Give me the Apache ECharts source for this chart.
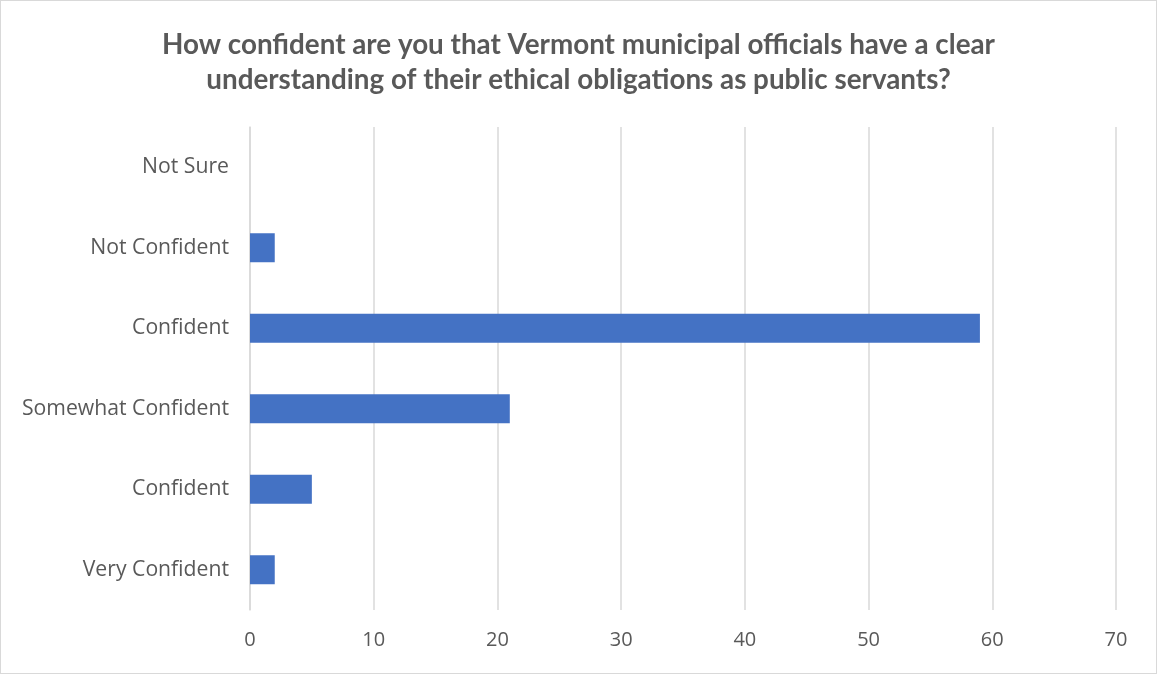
<!DOCTYPE html>
<html><head><meta charset="utf-8">
<script src="https://cdn.jsdelivr.net/npm/echarts@6/dist/echarts.min.js"></script>
<style>html,body{margin:0;padding:0;background:#fff}#c{width:1157px;height:674px;box-sizing:border-box;border:1px solid #d9d9d9}</style>
</head><body><div id="c"></div>
<script>
const titleText = "How confident are you that Vermont municipal officials have a clear\nunderstanding of their ethical obligations as public servants?";
const categories = ["Very Confident", "Confident", "Somewhat Confident", "Confident", "Not Confident", "Not Sure"];
const values = [2, 5, 21, 59, 2, 0];
const xTicks = [0, 10, 20, 30, 40, 50, 60, 70];

const chart = echarts.init(document.getElementById('c'));
chart.setOption({
  animation: false,
  title: {
    text: titleText, left: 'center', top: 22,
    textStyle: { fontFamily: 'Lato', fontWeight: 'bold', fontSize: 27.8, color: '#595959', lineHeight: 35 }
  },
  grid: { left: 249, right: 40, top: 126, bottom: 63, containLabel: false },
  xAxis: {
    type: 'value', min: xTicks[0], max: xTicks[xTicks.length - 1], interval: 10,
    axisLine: { show: false }, axisTick: { show: false },
    splitLine: { lineStyle: { color: '#d9d9d9', width: 1.5 } },
    axisLabel: { color: '#595959', fontSize: 20, fontFamily: 'Open Sans', margin: 20 }
  },
  yAxis: {
    type: 'category', data: categories,
    axisLine: { show: true, lineStyle: { color: '#d9d9d9', width: 1.5 } },
    axisTick: { show: false },
    axisLabel: { color: '#595959', fontSize: 21.2, fontFamily: 'Open Sans', margin: 21 }
  },
  series: [{
    type: 'bar', data: values, barWidth: 29,
    itemStyle: { color: '#4472c4' }
  }]
});
</script></body></html>
